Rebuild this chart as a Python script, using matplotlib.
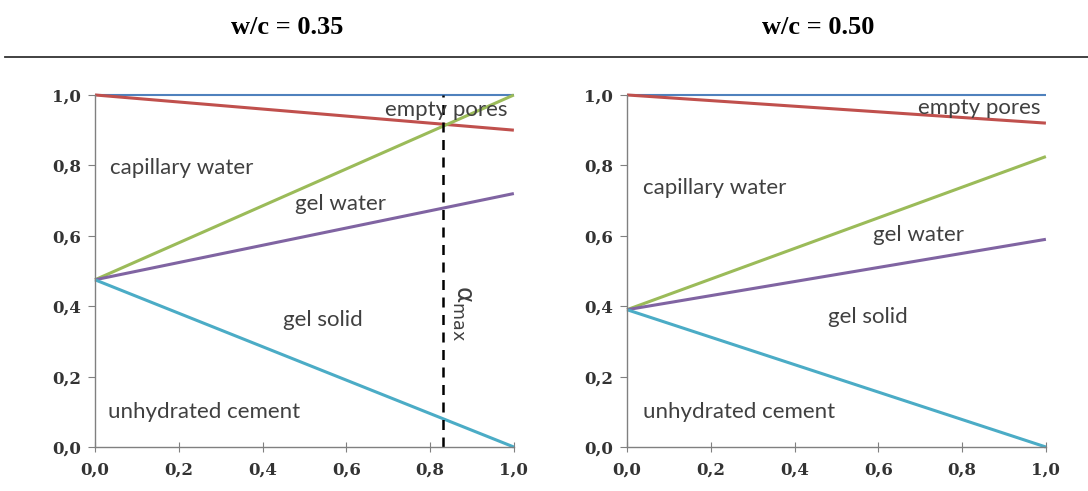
import numpy as np
import matplotlib
matplotlib.use('Agg')
import matplotlib.pyplot as plt
from matplotlib.ticker import FuncFormatter

# degree of hydration (start and end of each line)
alpha = [0.0, 1.0]

# volume fractions for w/c = 0.35
total_035 = [1.0, 1.0]
empty_035 = [1.0, 0.90]
capw_035 = [0.475, 1.0]
gelw_035 = [0.475, 0.72]
cem_035 = [0.475, 0.0]
alpha_max = 0.83

# volume fractions for w/c = 0.50
total_050 = [1.0, 1.0]
empty_050 = [1.0, 0.92]
capw_050 = [0.39, 0.825]
gelw_050 = [0.39, 0.59]
cem_050 = [0.39, 0.0]

titles = ['w/c = 0.35', 'w/c = 0.50']
ticks = [0.0, 0.2, 0.4, 0.6, 0.8, 1.0]

colors = ['#4F81BD', '#C0504D', '#9BBB59', '#8064A2', '#4BACC6']
widths = [1.5, 2.2, 2.2, 2.2, 2.2]

fig = plt.figure(figsize=(10.88, 4.91), dpi=100)
ax1 = fig.add_axes([0.0873, 0.0896, 0.385, 0.717])
ax2 = fig.add_axes([0.5763, 0.0896, 0.385, 0.717])

comma = FuncFormatter(lambda v, p: ('%.1f' % v).replace('.', ','))
txt = dict(fontsize=16, color='#404040', family='Lato')

for ax, series in [(ax1, [total_035, empty_035, capw_035, gelw_035, cem_035]),
                   (ax2, [total_050, empty_050, capw_050, gelw_050, cem_050])]:
    for s, c, w in zip(series, colors, widths):
        ax.plot(alpha, s, color=c, lw=w, solid_capstyle='butt', clip_on=False)
    ax.set_xlim(0, 1)
    ax.set_ylim(0, 1)
    ax.set_xticks(ticks)
    ax.set_yticks(ticks)
    ax.xaxis.set_major_formatter(comma)
    ax.yaxis.set_major_formatter(comma)
    ax.spines['top'].set_visible(False)
    ax.spines['right'].set_visible(False)
    for sp in ['left', 'bottom']:
        ax.spines[sp].set_color('#808080')
        ax.spines[sp].set_linewidth(1.0)
    ax.tick_params(axis='x', direction='inout', length=7, color='#808080', pad=7)
    ax.tick_params(axis='y', direction='out', length=5, color='#808080', pad=5)
    for lab in ax.get_xticklabels() + ax.get_yticklabels():
        lab.set_fontfamily('DejaVu Serif')
        lab.set_fontweight('bold')
        lab.set_fontsize(12)
        lab.set_color('#333333')

# labels for w/c = 0.35
ax1.text(0.986, 0.957, 'empty pores', ha='right', va='center', **txt)
ax1.text(0.036, 0.793, 'capillary water', ha='left', va='center', **txt)
ax1.text(0.477, 0.69, 'gel water', ha='left', va='center', **txt)
ax1.text(0.449, 0.36, 'gel solid', ha='left', va='center', **txt)
ax1.text(0.031, 0.10, 'unhydrated cement', ha='left', va='center', **txt)
ax1.axvline(alpha_max, color='black', lw=1.8, ls=(0, (4, 3)))
ax1.text(0.876, 0.38, r'$\mathrm{\alpha}_{\mathrm{max}}$', rotation=-90, ha='center',
         va='center', fontsize=18, color='#404040')

# labels for w/c = 0.50
ax2.text(0.986, 0.963, 'empty pores', ha='right', va='center', **txt)
ax2.text(0.038, 0.736, 'capillary water', ha='left', va='center', **txt)
ax2.text(0.587, 0.602, 'gel water', ha='left', va='center', **txt)
ax2.text(0.48, 0.37, 'gel solid', ha='left', va='center', **txt)
ax2.text(0.038, 0.10, 'unhydrated cement', ha='left', va='center', **txt)

# titles and rule
for x, t in zip([287, 818], titles):
    fig.text(x / 1088, 1 - 28 / 491, t, ha='center', va='center',
             family='Liberation Serif', fontweight='bold', fontsize=19)
fig.add_artist(plt.Line2D([5 / 1088, 1.0], [1 - 57 / 491, 1 - 57 / 491],
                          transform=fig.transFigure, color='#333333', lw=1.3))

fig.savefig('out.png', dpi=100)
